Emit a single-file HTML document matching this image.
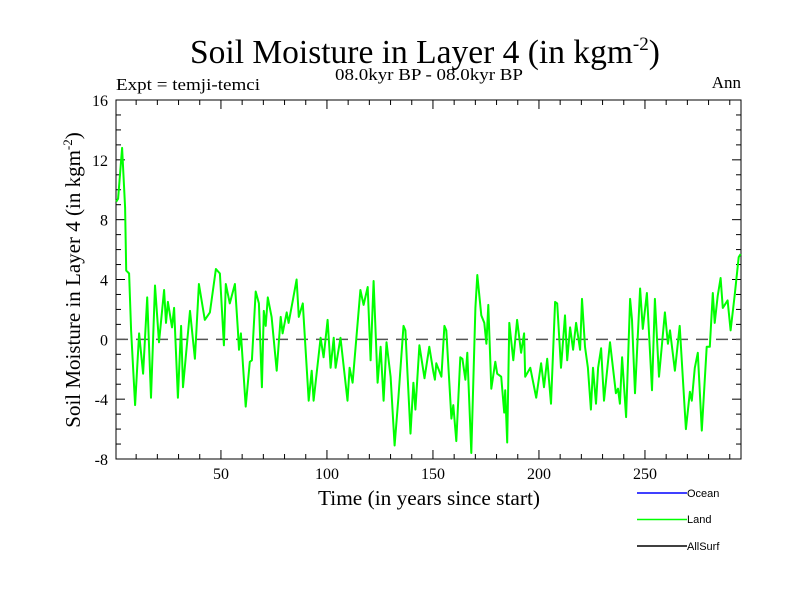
<!DOCTYPE html>
<html><head><meta charset="utf-8"><style>
body{margin:0;background:#fff}
svg{display:block}
.s{font-family:"Liberation Serif",serif;fill:#000}
.l{font-family:"Liberation Sans",sans-serif;font-size:11px;fill:#000}
</style></head><body>
<svg id="chart" width="800" height="600" viewBox="0 0 800 600">
<rect width="800" height="600" fill="#fff"/>
<text class="s" x="190" y="63" font-size="33.5">Soil Moisture in Layer 4 (in kgm<tspan font-size="19" dy="-13">-2</tspan><tspan dy="13">)</tspan></text>
<text class="s" x="335" y="80" font-size="17" textLength="188" lengthAdjust="spacingAndGlyphs">08.0kyr BP - 08.0kyr BP</text>
<text class="s" x="116" y="90" font-size="17" textLength="144" lengthAdjust="spacingAndGlyphs">Expt = temji-temci</text>
<text class="s" x="741" y="88" text-anchor="end" font-size="17">Ann</text>
<text class="s" x="429" y="505" text-anchor="middle" font-size="21" textLength="222" lengthAdjust="spacingAndGlyphs">Time (in years since start)</text>
<text class="s" transform="translate(80,280) rotate(-90)" text-anchor="middle" font-size="21">Soil Moisture in Layer 4 (in kgm<tspan font-size="13" dy="-8">-2</tspan><tspan dy="8">)</tspan></text>
<g id="axes"></g>
<g id="series"></g>
<g>
<line x1="637" y1="493" x2="687" y2="493" stroke="#0000ff" stroke-width="1.5"/>
<text class="l" x="687" y="497">Ocean</text>
<line x1="637" y1="519.5" x2="687" y2="519.5" stroke="#00ff00" stroke-width="1.5"/>
<text class="l" x="687" y="523">Land</text>
<line x1="637" y1="546" x2="687" y2="546" stroke="#000" stroke-width="1.5"/>
<text class="l" x="687" y="550">AllSurf</text>
</g>
</svg>
<script>
const years = [0.6,1.5,3.4,4.8,5.3,6.7,7.6,9.5,11.4,13.3,15.2,17,18.9,20.8,23.2,24.1,25,26.9,27.9,29.7,31.2,32.1,35.4,37.7,39.6,42.4,44.8,47.6,49.5,51.4,52.3,54.2,56.6,58,58.5,59.4,61.7,63.6,64.6,66.4,67.9,69.3,70.2,71.1,72.1,73.9,76.3,78.2,79.1,81,81.9,83.9,85.7,86.7,88.6,91.4,92.8,93.7,97,98.4,100.3,101.7,103.2,104.1,106.4,109.7,110.7,112.1,115.8,117.3,119.2,120.6,122,123.9,125.3,126.7,128.1,130,131.9,133.7,136.1,137,138,139.4,140.8,141.7,143.6,146,148.3,150.2,150.9,151.6,154,155.4,156.3,158.7,159.6,161,162.9,163.9,165.3,166.2,168.1,170,170.9,172.8,174.2,175.2,176.1,177.5,179.4,180.3,182.2,183.6,184.1,185,186,187.9,189.7,191.6,193,193.5,195.9,198.7,201,202.4,203.9,205.7,207.6,208.6,210.4,212.3,213.3,214.7,216.1,217.5,219.4,220.3,221.7,223.1,224.5,225.5,226.9,227.9,229.3,230.7,233.5,236.3,237.3,238.2,239.2,241.1,243,243.9,245.3,247.7,249,250.9,253.3,254.7,256.6,259.4,260.8,261.8,264.1,266.4,269.3,271.2,272.1,273.5,274.9,276.8,279.1,280.6,282,282.9,284.3,285.7,286.7,289,290.4,292.3,294.2,295.1];
const landValues = [9.2,9.4,12.8,8.8,4.6,4.4,0.6,-4.4,0.4,-2.3,2.8,-3.9,3.6,-0.2,3.3,1.1,2.5,0.8,2.1,-3.9,0.9,-3.2,1.9,-1.3,3.7,1.3,1.8,4.7,4.4,-0.4,3.7,2.4,3.7,0.6,-0.7,0.4,-4.5,-1.5,-1.4,3.2,2.4,-3.2,1.9,0.9,2.8,1.5,-2.1,1.5,0.4,1.8,1.1,2.6,4.0,1.5,2.4,-4.1,-2.1,-4.1,0.1,-1.2,1.3,-1.9,0.1,-1.9,0.1,-4.1,-1.9,-2.9,3.3,2.3,3.5,-1.4,3.9,-2.9,-0.5,-4.1,-0.2,-2.5,-7.1,-3.9,0.9,0.6,-2.3,-6.3,-2.9,-4.7,-0.4,-2.6,-0.5,-2.2,-2.7,-1.6,-2.5,0.9,0.6,-5.3,-4.4,-6.8,-1.2,-1.3,-2.7,-0.9,-7.6,2.1,4.3,1.6,1.1,-0.3,2.3,-3.3,-1.5,-2.3,-2.5,-4.9,-3.4,-6.9,1.1,-1.4,1.3,-0.9,0.4,-2.5,-1.9,-3.9,-1.6,-3.2,-1.3,-4.3,2.5,2.4,-1.9,1.6,-1.4,0.8,-0.7,1.1,-0.7,2.7,-0.5,-1.9,-4.7,-1.9,-4.3,-1.9,-0.6,-4.1,-0.2,-3.6,-3.3,-4.3,-1.2,-5.2,2.7,1.3,-3.6,3.4,0.7,3.1,-3.4,2.7,-2.5,1.8,-0.3,0.6,-2.1,0.9,-6.0,-3.5,-4.1,-1.9,-0.9,-6.1,-0.5,-0.5,3.1,1.1,2.9,4.1,2.1,2.6,0.6,2.9,5.5,5.7];
const yTicks = [-8,-4,0,4,8,12,16];
const xTicks = [50,100,150,200,250];

const NS = 'http://www.w3.org/2000/svg';
const L = 116, R = 741, T = 100, B = 459;
const X0 = 0.5, X1 = 295.3, Y0 = -8, Y1 = 16;
function xs(v){ return L + (v - X0) / (X1 - X0) * (R - L); }
function ys(v){ return B - (v - Y0) / (Y1 - Y0) * (B - T); }
function mk(tag, attrs, parent){
  const e = document.createElementNS(NS, tag);
  for (const k in attrs) e.setAttribute(k, attrs[k]);
  parent.appendChild(e);
  return e;
}
const axes = document.getElementById('axes');
let frame = mk('rect', {x:L, y:T, width:R-L, height:B-T, fill:'none', stroke:'#000', 'stroke-width':1}, axes);


for (let v = Y0; v <= Y1; v++) {
  const major = yTicks.includes(v);
  const len = major ? 9 : 5;
  const y = ys(v);
  let t1 = mk('line', {x1:L, y1:y, x2:L+len, y2:y, stroke:'#000'}, axes);
  
  
  let t2 = mk('line', {x1:R, y1:y, x2:R-len, y2:y, stroke:'#000'}, axes);
  
  
}
yTicks.forEach(v => {
  const t = mk('text', {x:L-8, y:ys(v)+6, 'text-anchor':'end', class:'s', 'font-size':16}, axes);
  t.textContent = v;
  
  
});
for (let v = 10; v < X1; v += 10) {
  const major = xTicks.includes(v);
  const len = major ? 9 : 5;
  const x = xs(v);
  let t1 = mk('line', {x1:x, y1:B, x2:x, y2:B-len, stroke:'#000'}, axes);
  
  
  let t2 = mk('line', {x1:x, y1:T, x2:x, y2:T+len, stroke:'#000'}, axes);
  
  
}
xTicks.forEach(v => {
  const t = mk('text', {x:xs(v), y:B+20, 'text-anchor':'middle', class:'s', 'font-size':16}, axes);
  t.textContent = v;
  
  
});
let zl = mk('line', {x1:L, y1:ys(0), x2:R, y2:ys(0), stroke:'#555', 'stroke-width':1.5, 'stroke-dasharray':'12,8'}, axes);


const series = document.getElementById('series');
const d = years.map((yr, i) => (i ? 'L' : 'M') + xs(yr).toFixed(1) + ',' + ys(landValues[i]).toFixed(1)).join('');
let p = mk('path', {d:d, fill:'none', stroke:'#00ff00', 'stroke-width':2, 'stroke-linejoin':'round'}, series);


</script>
</body></html>
